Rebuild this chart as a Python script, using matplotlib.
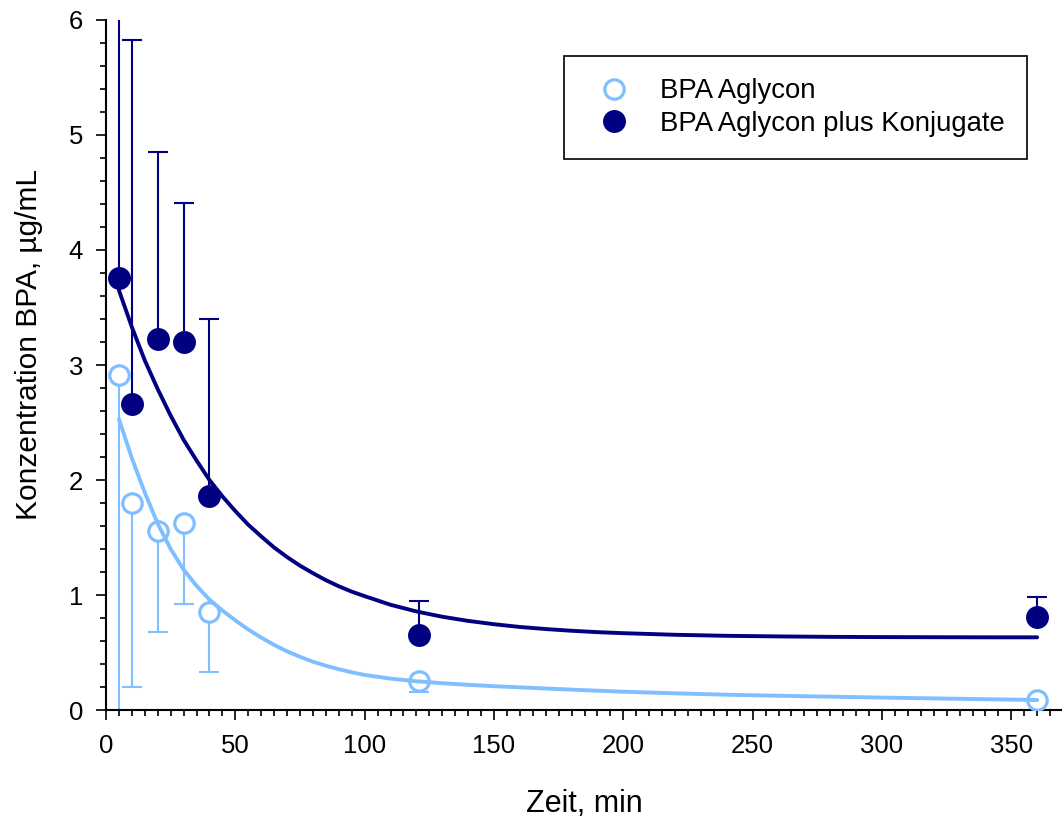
import matplotlib
matplotlib.use('Agg')
import matplotlib.pyplot as plt
from matplotlib.ticker import MultipleLocator

plt.rcParams['font.family'] = ['Liberation Sans', 'DejaVu Sans']

# measured values (min, ug/mL)
zeit = [5, 10, 20, 30, 40, 121, 360]
aglycon = [2.91, 1.80, 1.56, 1.63, 0.85, 0.25, 0.09]
aglycon_low = [-0.3, 0.20, 0.68, 0.92, 0.33, 0.16, 0.09]   # lower end of error bar
gesamt = [3.76, 2.66, 3.23, 3.20, 1.86, 0.65, 0.81]
gesamt_high = [6.4, 5.83, 4.85, 4.41, 3.40, 0.95, 0.98]    # upper end of error bar

# fitted curves
fit_t = [5, 10, 15, 20, 25, 30, 35, 40, 45, 50, 55, 60, 65, 70, 75, 80, 85, 90, 95, 100,
         110, 120, 130, 140, 150, 160, 170, 180, 190, 200,
         220, 240, 260, 280, 300, 320, 340, 360]
fit_aglycon = [2.53, 2.19, 1.89, 1.62, 1.40, 1.22, 1.08, 0.96, 0.865, 0.78, 0.70, 0.63,
               0.566, 0.51, 0.463, 0.42, 0.385, 0.355, 0.328, 0.305,
               0.273, 0.25, 0.233, 0.219, 0.207, 0.197, 0.187, 0.177, 0.168, 0.159,
               0.145, 0.133, 0.124, 0.116, 0.108, 0.101, 0.094, 0.087]
fit_gesamt = [3.65, 3.33, 3.04, 2.79, 2.56, 2.35, 2.17, 2.00, 1.858, 1.73, 1.611, 1.51,
              1.413, 1.33, 1.255, 1.19, 1.129, 1.076, 1.029, 0.99,
              0.915, 0.857, 0.811, 0.775, 0.746, 0.722, 0.704, 0.689, 0.677, 0.668,
              0.654, 0.645, 0.640, 0.636, 0.634, 0.633, 0.632, 0.632]

hell = '#80bfff'
dunkel = '#000080'

fig = plt.figure(figsize=(10.62, 8.23), dpi=100)
ax = fig.add_axes([0.0998, 0.1373, 0.9002, 0.8384])

# error bars (one sided)
ax.vlines(zeit, aglycon, aglycon_low, color=hell, lw=1.5, zorder=2)
ax.plot(zeit, aglycon_low, ls='none', marker='_', ms=15, mew=1.5, color=hell, zorder=2)
ax.vlines(zeit, gesamt, gesamt_high, color=dunkel, lw=1.5, zorder=2)
ax.plot(zeit, gesamt_high, ls='none', marker='_', ms=15, mew=1.5, color=dunkel, zorder=2)

# points
p1, = ax.plot(zeit, aglycon, ls='none', marker='o', ms=14, mew=2.3,
              mfc='white', mec=hell, zorder=3, label='BPA Aglycon')
p2, = ax.plot(zeit, gesamt, ls='none', marker='o', ms=16.5, mew=0,
              mfc=dunkel, zorder=3, label='BPA Aglycon plus Konjugate')

# curves
ax.plot(fit_t, fit_aglycon, color=hell, lw=2.8, zorder=4, solid_capstyle='round',
        solid_joinstyle='round')
ax.plot(fit_t, fit_gesamt, color=dunkel, lw=2.8, zorder=4, solid_capstyle='round',
        solid_joinstyle='round')

ax.set_xlim(0, 369.6)
ax.set_ylim(0, 6)
ax.xaxis.set_major_locator(MultipleLocator(50))
ax.xaxis.set_minor_locator(MultipleLocator(5))
ax.yaxis.set_major_locator(MultipleLocator(1))
ax.yaxis.set_minor_locator(MultipleLocator(0.2))

for s in ['top', 'right']:
    ax.spines[s].set_visible(False)
for s in ['left', 'bottom']:
    ax.spines[s].set_linewidth(1.5)
ax.tick_params(which='major', direction='out', length=7.5, width=1.2, labelsize=18.5)
ax.tick_params(which='minor', direction='out', length=4.5, width=1.2)
ax.tick_params(axis='x', which='major', pad=10)
ax.tick_params(axis='y', which='major', pad=9)

ax.set_xlabel('Zeit, min', fontsize=22)
ax.set_ylabel('Konzentration BPA, µg/mL', fontsize=21.5)
ax.xaxis.set_label_coords(0.5, -0.114)
ax.yaxis.set_label_coords(-0.066, 0.529)

leg = ax.legend(handles=[p1, p2], loc='upper left', bbox_to_anchor=(0.479, 0.948),
                borderaxespad=0, fontsize=19.8, frameon=True, fancybox=False,
                edgecolor='black', framealpha=1, borderpad=0.81, handlelength=2.0,
                handletextpad=0.68, labelspacing=0.24)
leg.get_frame().set_linewidth(1.2)

fig.savefig('out.png', dpi=100)
